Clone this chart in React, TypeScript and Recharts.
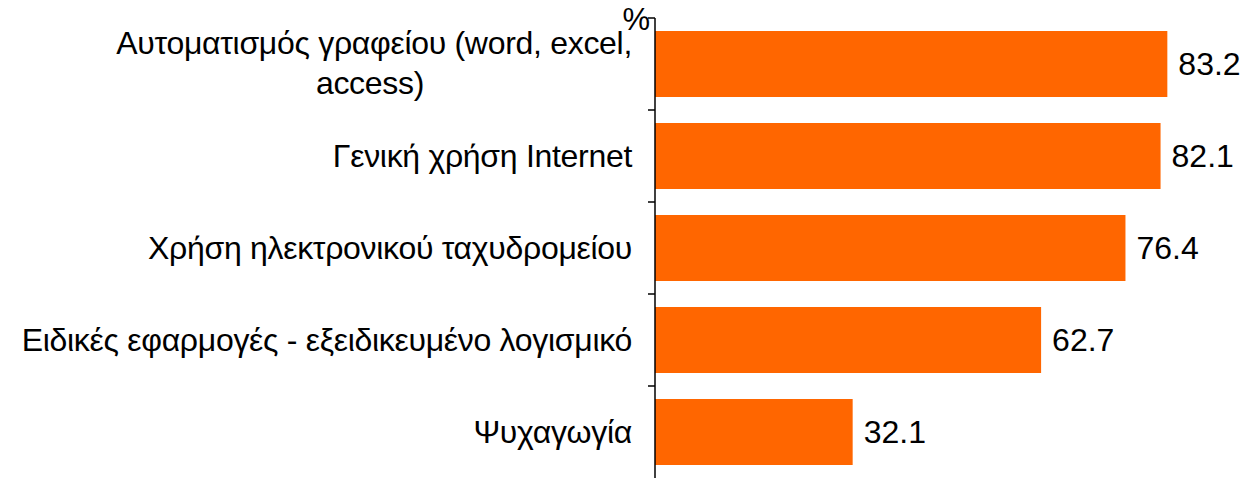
import React from 'react';
import { BarChart, Bar, XAxis, YAxis, LabelList } from 'recharts';

const categories = [
  'Αυτοματισμός γραφείου (word, excel,\naccess)',
  'Γενική χρήση Internet',
  'Χρήση ηλεκτρονικού ταχυδρομείου',
  'Ειδικές εφαρμογές - εξειδικευμένο λογισμικό',
  'Ψυχαγωγία',
];
const values = [83.2, 82.1, 76.4, 62.7, 32.1];
const unitLabel = '%';

const data = categories.map((c, i) => ({ name: c, value: values[i] }));

const FONT = '"Liberation Sans", Arial, sans-serif';

const CatTick = (props: any) => {
  const { x, y, payload } = props;
  const half = payload && payload.offset ? payload.offset : 46;
  const lines: string[] = String(payload.value).split('\n');
  const tx = x - 23;
  const lineH = 40;
  const common = { fontFamily: FONT, fontSize: 32, letterSpacing: -0.3, fill: '#000' };
  return (
    <g>
      <line x1={x - 7} x2={x} y1={y - half} y2={y - half} stroke="#000" strokeWidth={1.5} />
      {lines.length === 1 ? (
        <text x={tx} y={y} textAnchor="end" dominantBaseline="central" {...common}>
          {lines[0]}
        </text>
      ) : (
        <text {...common}>
          <tspan x={tx} y={y - lineH / 2 - 1} textAnchor="end" dominantBaseline="central">{lines[0]}</tspan>
          <tspan x={tx - 262} y={y + lineH / 2 - 1} textAnchor="middle" dominantBaseline="central">{lines[1]}</tspan>
        </text>
      )}
    </g>
  );
};

const PctLabel = (props: any) => {
  const vb = props.viewBox || {};
  return (
    <text x={vb.x + vb.width - 5} y={vb.y + 12} textAnchor="end" fontFamily={FONT} fontSize={31} fill="#000">
      {unitLabel}
    </text>
  );
};

export default function App() {
  return (
    <div style={{ position: 'fixed', top: 0, left: 0, width: 1245, height: 478, background: '#fff' }}>
      <BarChart
        width={1245}
        height={478}
        data={data}
        layout="vertical"
        margin={{ top: 18, right: 5, bottom: 0, left: 0 }}
        barCategoryGap={13}
      >
        <XAxis type="number" domain={[0, 95]} hide />
        <YAxis
          type="category"
          dataKey="name"
          width={655}
          tickLine={false}
          tickSize={0}
          tickMargin={0}
          axisLine={{ stroke: '#000', strokeWidth: 1.5 }}
          tick={<CatTick />}
          interval={0}
          label={<PctLabel />}
        />
        <Bar dataKey="value" fill="#FF6600" isAnimationActive={false}>
          <LabelList
            dataKey="value"
            position="right"
            offset={11}
            fill="#000"
            fontSize={32}
            fontFamily={FONT}
            formatter={(v: any) => Number(v).toFixed(1)}
          />
        </Bar>
      </BarChart>
    </div>
  );
}
